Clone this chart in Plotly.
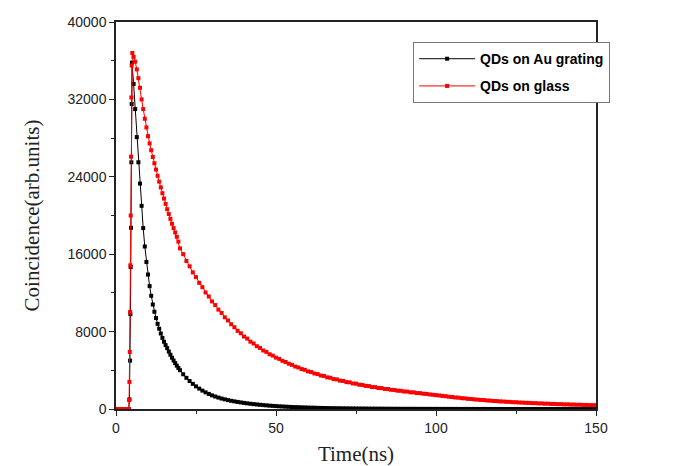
import plotly.graph_objects as go

# Time axis (ns) and coincidence counts

# QDs on Au grating - rise and first 20 ns
t_au_early = [0, 0.5, 1, 1.5, 2, 2.5, 3, 3.5, 4.0, 4.2, 4.4, 4.5, 4.6, 4.7, 4.8, 4.9, 5.0,
              5.5, 6.0, 6.5, 7.0, 7.5, 8.0, 8.5, 9.0, 9.5, 10.0, 10.5, 11.0, 11.5, 12.0,
              12.5, 13.0, 13.5, 14.0, 14.5, 15.0, 15.5, 16.0, 16.5, 17.0, 17.5, 18.0,
              18.5, 19.0, 19.5, 20.0]
au_early = [0, 0, 0, 0, 0, 0, 0, 0, 0, 1000, 5000, 9800, 14670, 18730, 25500, 31520, 35800,
            33600, 31000, 28100, 25500, 23300, 21000, 18700, 16800, 15200, 13900, 12700,
            11700, 10800, 10050, 9400, 8800, 8300, 7800, 7350, 6950, 6600, 6290, 5940,
            5610, 5300, 5010, 4740, 4480, 4240, 4010]

# QDs on glass - rise and first 20 ns
t_glass_early = [0, 0.5, 1, 1.5, 2, 2.5, 3, 3.5, 4.0, 4.1, 4.2, 4.3, 4.4, 4.5, 4.6, 4.7, 4.8,
                 4.9, 5.1, 5.5, 6.0, 6.5, 7.0, 7.5, 8.0, 8.5, 9.0, 9.5, 10.0, 10.5, 11.0,
                 11.5, 12.0, 12.5, 13.0, 13.5, 14.0, 14.5, 15.0, 15.5, 16.0, 16.5, 17.0,
                 17.5, 18.0, 18.5, 19.0, 19.5, 20.0]
glass_early = [0, 0, 0, 0, 0, 0, 0, 0, 0, 930, 2800, 5900, 10030, 14850, 20000, 26080, 32200,
               35500, 36800, 36400, 35900, 35100, 34200, 33200, 32000, 31000, 30000, 29100,
               28200, 27450, 26750, 26050, 25400, 24750, 24100, 23500, 22900, 22300, 21750,
               21200, 20650, 20150, 19650, 19150, 18700, 18250, 17800, 17300, 16600]

# both curves from 21 ns to 150 ns, 1 ns steps
t_tail = list(range(21, 151))

au_tail = [3590, 3220, 2890, 2600, 2340, 2110, 1900, 1720, 1560, 1410,
           1290, 1180, 1080, 997, 920, 850, 789, 732, 680, 631,
           585, 543, 504, 468, 434, 403, 374, 347, 322, 299,
           278, 258, 240, 224, 209, 195, 182, 170, 158, 147,
           137, 128, 119, 111, 103, 96, 90, 84, 79, 74,
           69, 65, 61, 57, 53, 50, 47, 44, 41, 38,
           36, 34, 32, 30, 28, 26, 24, 23, 21, 20,
           19, 18, 17, 16, 15, 14, 13, 13, 12, 11,
           11, 10, 10, 9, 9, 8, 8, 8, 7, 7,
           7, 6, 6, 6, 6, 5, 5, 5, 5, 5,
           4, 4, 4, 4, 4, 4, 4, 4, 4, 4,
           4, 4, 3, 3, 3, 3, 3, 3, 3, 3,
           3, 3, 2, 2, 2, 2, 2, 2, 2, 2]

glass_tail = [16000, 15300, 14750, 14120, 13630, 13040, 12590, 12040, 11630, 11120,
              10740, 10270, 9930, 9480, 9150, 8760, 8450, 8080, 7830, 7490,
              7280, 6960, 6770, 6490, 6310, 6050, 5900, 5660, 5520, 5310,
              5180, 4980, 4860, 4680, 4560, 4390, 4290, 4130, 4050, 3890,
              3820, 3670, 3610, 3460, 3410, 3270, 3230, 3090, 3060, 2930,
              2900, 2780, 2760, 2640, 2620, 2510, 2490, 2390, 2370, 2270,
              2260, 2170, 2160, 2070, 2060, 1980, 1970, 1890, 1880, 1810,
              1800, 1730, 1720, 1650, 1640, 1580, 1560, 1510, 1470, 1430,
              1400, 1350, 1320, 1270, 1240, 1190, 1170, 1120, 1100, 1050,
              1030, 990, 970, 935, 920, 880, 865, 830, 820, 785,
              775, 745, 735, 705, 700, 670, 665, 638, 635, 607,
              605, 578, 576, 550, 550, 524, 525, 500, 502, 478,
              480, 457, 460, 437, 440, 418, 420, 400, 402, 384]

t_au = t_au_early + t_tail
au = au_early + au_tail
t_glass = t_glass_early + t_tail
glass = glass_early + glass_tail

fig = go.Figure()
fig.add_trace(go.Scatter(x=t_au, y=au, mode='lines+markers', name='QDs on Au grating',
                         line=dict(color='black', width=1),
                         marker=dict(symbol='square', size=4, color='black'),
                         legendgroup='au'))
fig.add_trace(go.Scatter(x=t_glass, y=glass, mode='lines+markers', name='QDs on glass',
                         line=dict(color='red', width=1),
                         marker=dict(symbol='square', size=4, color='red'),
                         legendgroup='glass'))

axis_style = dict(showline=True, linecolor='#222', linewidth=1.5, mirror=True,
                  ticks='outside', ticklen=5, tickwidth=1.2, tickcolor='#222',
                  showgrid=False, zeroline=False, automargin=False,
                  tickfont=dict(family='Liberation Sans, Arial', size=14, color='#222'))

fig.update_xaxes(range=[0, 150], tick0=0, dtick=50,
                 minor=dict(dtick=25, ticks='outside', ticklen=3, tickcolor='#222'),
                 title=dict(text='Time(ns)', standoff=13,
                            font=dict(family='Liberation Serif, Times New Roman', size=21, color='#222')),
                 **axis_style)
fig.update_yaxes(range=[0, 40000], tick0=0, dtick=8000, tickformat='d',
                 minor=dict(dtick=4000, ticks='outside', ticklen=3, tickcolor='#222'),
                 title=dict(text='Coincidence(arb.units)', standoff=22,
                            font=dict(family='Liberation Serif, Times New Roman', size=21, color='#222')),
                 **axis_style)

# page body adds an 8px offset, so the figure is sized to fit inside the window
fig.update_layout(
    width=666, height=458,
    margin=dict(l=108, r=78, t=14, b=57),
    plot_bgcolor='white', paper_bgcolor='white',
    legend=dict(x=0.619, y=0.948, xanchor='left', yanchor='top',
                bordercolor='#777', borderwidth=1, bgcolor='white',
                traceorder='grouped', tracegroupgap=6, itemwidth=56,
                font=dict(family='Liberation Sans, Arial', size=14, color='black', weight='bold')),
)

fig.write_html("out.html")
